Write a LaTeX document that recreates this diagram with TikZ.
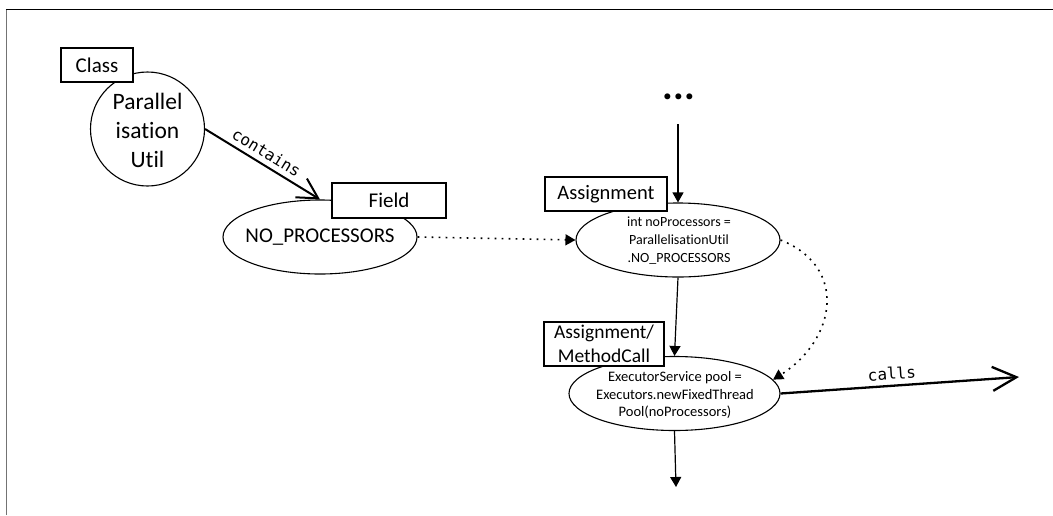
\documentclass[tikz,border=0pt]{standalone}
\usepackage{fontspec}
\setmainfont{Carlito}[Ligatures=NoCommon]
\newfontfamily\codefont{DejaVu Sans Mono}
\usetikzlibrary{shapes.geometric,arrows.meta}

\begin{document}
\begin{tikzpicture}[x=1pt,y=-1pt,
  oval/.style={draw,ellipse,line width=1.1pt,inner sep=0pt},
  ovaltext/.style={inner sep=0pt,align=center},
  tag/.style={draw,fill=white,line width=1.1pt,inner sep=0pt,align=center,
    font=\fontsize{21}{24}\selectfont},
  flow/.style={line width=1.2pt,-{Triangle[length=10pt,width=11pt]}},
  ref/.style={line width=1.6pt,dash pattern=on 1.8pt off 5.2pt,
    -{Triangle[length=10pt,width=11pt]}},
  rel/.style={line width=2pt,-{Straight Barb[length=20pt,width=22pt]}},
  rellabel/.style={font=\codefont\fontsize{16}{18}\selectfont,sloped,above,inner sep=5pt}
]
\useasboundingbox (0,0) rectangle (1053,515);

% frame
\draw[line width=1.5pt,black!55] (6.5,515) -- (6.5,9.3);
\draw[line width=1.3pt] (5.8,9.3) -- (1053,9.3);

% class node
\node[oval,circle,minimum size=114pt] (cls) at (147.5,129) {};
\node[ovaltext,font=\fontsize{23.5}{29}\selectfont] (clsT) at (147.5,130) {Parallel\\isation\\Util};
\node[tag,minimum width=72pt,minimum height=34pt] (clsTag) at (97,65) {Class};

% field node
\node[oval,minimum width=194pt,minimum height=74pt] (fld) at (320,237) {};
\node[ovaltext,font=\fontsize{21}{24}\selectfont] (fldT) at (fld) {NO\_PROCESSORS};
\node[tag,minimum width=114pt,minimum height=35pt] (fldTag) at (389,200.5) {Field};

% assignment node
\node[oval,minimum width=204pt,minimum height=74pt] (asg) at (678,240) {};
\node[ovaltext,font=\fontsize{14}{18}\selectfont] (asgT) at (679,241)
  {int noProcessors =\\ParallelisationUtil\\.NO\_PROCESSORS};
\node[tag,minimum width=122pt,minimum height=34pt,font=\fontsize{20.5}{24}\selectfont]
  (asgTag) at (606,194) {Assignment};

% executor node
\node[oval,minimum width=211pt,minimum height=74pt] (exe) at (674.5,393.5) {};
\node[ovaltext,font=\fontsize{14.5}{17.5}\selectfont] (exeT) at (675,395)
  {ExecutorService pool =\\Executors.newFixedThread\\Pool(noProcessors)};
\node[tag,minimum width=120pt,minimum height=44pt,font=\fontsize{19.5}{24}\selectfont]
  (exeTag) at (604,344) {Assignment/\\MethodCall};

% preceding statements
\node[inner sep=0pt,font=\fontsize{40}{40}\selectfont\bfseries] (more) at (679,97) {...};
\coordinate (inTop) at (678,124);
\coordinate (outBot) at (676,487);
\coordinate (callEnd) at (1019,377);

% connectors
\draw[rel] (cls.east) -- node[rellabel,pos=0.48] {contains} (fld.north);
\draw[ref] (fld.east) -- (asg.west);
\draw[flow] (inTop) -- (asg.north);
\draw[flow] (asg.south) -- (exe.north);
\draw[flow] (exe.south) -- (outBot);
\draw[ref] (asg.east) .. controls +(68,27) and +(63,-40) .. (exe.8);
\draw[line width=2.3pt,-{Straight Barb[length=24pt,width=24pt]}] (exe.east) --
  node[rellabel,pos=0.47] {calls} (callEnd);
\end{tikzpicture}
\end{document}
